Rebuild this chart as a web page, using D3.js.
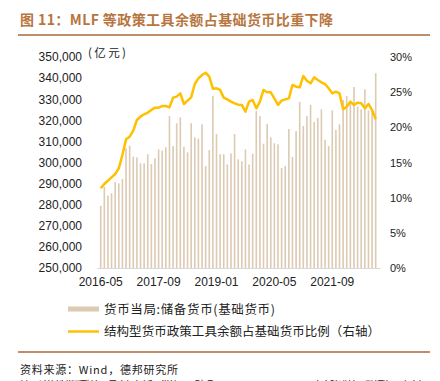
<!DOCTYPE html>
<html><head><meta charset="utf-8">
<script src="https://cdn.jsdelivr.net/npm/d3@7"></script>
<style>
body{margin:0;background:#fff;}
svg{display:block;}
text{font-family:"Liberation Sans",Arial,sans-serif;}
.cjk{font-family:"Noto Sans CJK SC","Noto Sans",sans-serif;}
</style></head><body>
<svg id="c" width="440" height="381"></svg>
<script>
// ---- data ----
const startMonth = "2016-05";
const monthCount = 77;
const tickLabels = ["2016-05","2017-09","2019-01","2020-05","2021-09"];
const baseMoney = [279500,288500,284300,285400,290800,290100,292200,306700,308000,302800,
302400,299600,299600,303900,299300,302000,306200,305600,307200,322000,
307800,318600,321400,307500,304800,318600,311900,311300,318100,298300,
305900,331500,313500,303900,303900,299100,304300,313500,301500,300600,
306200,299100,304200,324400,322000,308900,318200,311900,309100,308600,
297400,298300,315900,302600,314900,328700,317300,322000,327300,319200,
321100,325200,310800,307800,324700,315400,318100,329600,331500,328800,
335800,326500,325200,334700,324600,324600,342300];
const toolRatio = [11.33,11.94,12.42,12.89,13.37,14.17,16.07,18.29,18.67,19.53,
21.04,21.52,21.85,22.09,22.46,22.80,22.80,23.03,23.03,22.84,
24.22,24.36,24.83,23.32,23.79,24.27,26.16,26.97,27.44,27.77,
27.20,25.50,25.55,25.31,24.22,23.98,23.65,23.41,23.22,23.18,
22.23,23.65,23.89,22.70,23.65,25.31,24.98,24.98,24.12,23.18,
23.79,23.98,24.12,26.02,25.78,25.69,27.30,26.63,26.26,27.11,
26.73,26.40,26.16,25.55,24.83,25.07,24.83,22.56,22.94,23.65,
23.18,23.51,23.41,22.70,23.32,22.46,21.14];
const leftTicks = [250000,260000,270000,280000,290000,300000,310000,320000,330000,340000,350000];
const rightTicks = [0,5,10,15,20,25,30];
const seriesNames = ["货币当局:储备货币(基础货币)","结构型货币政策工具余额占基础货币比例（右轴）"];
const titleText = "图 11：MLF 等政策工具余额占基础货币比重下降";
const unitText = "(亿元)";
const sourceText = "资料来源：Wind，德邦研究所";
const noteText = "注：结构性货币政策工具余额包括再贷款、再贴现、PSL、MLF、TMLF、SLF、定向降准等，数据为月度余额";

// month categories
const parseM = d3.timeParse("%Y-%m"), fmtM = d3.timeFormat("%Y-%m");
const months = d3.timeMonth.range(parseM(startMonth), d3.timeMonth.offset(parseM(startMonth), monthCount)).map(fmtM);

const svg = d3.select("#c");
const barColor = "#dccab2", lineColor = "#ffc000", brown = "#a8693c";

// title
svg.append("text").attr("class","cjk").attr("x",20).attr("y",25)
  .attr("font-size",14).attr("font-weight","bold").attr("fill","#b7763f")
  .attr("textLength",313).text(titleText);
svg.append("line").attr("x1",18).attr("x2",430).attr("y1",35).attr("y2",35)
  .attr("stroke",brown).attr("stroke-width",1.6);

// scales
const x = d3.scaleBand().domain(months).range([98.9, 377.5]).padding(0);
const yL = d3.scaleLinear().domain([250000,350000]).range([268,57]);
const yR = d3.scaleLinear().domain([0,30]).range([268,57]);

// bars
svg.append("g").selectAll("rect").data(baseMoney).join("rect")
  .attr("x",(d,i)=>x(months[i]) + x.bandwidth()/2 - 0.8)
  .attr("width",1.6)
  .attr("y",d=>yL(d)).attr("height",d=>yL(250000)-yL(d))
  .attr("fill",barColor);

// x axis
const xAxis = d3.axisBottom(x).tickValues(tickLabels).tickSize(0).tickPadding(9);
const gx = svg.append("g").attr("transform","translate(0,268)").call(xAxis);
gx.select(".domain").attr("stroke","#d9d9d9").attr("d","M97.5,0.5H380.5");
gx.selectAll("text").attr("font-size",12).attr("fill","#222").attr("font-family","Liberation Sans, Arial, sans-serif");

// left axis
const gl = svg.append("g").attr("transform","translate(82,0)")
  .call(d3.axisLeft(yL).tickValues(leftTicks).tickSize(0).tickPadding(0).tickFormat(d3.format(",")));
gl.select(".domain").remove();
gl.selectAll("text").attr("font-size",12).attr("fill","#222").attr("font-family","Liberation Sans, Arial, sans-serif");

// right axis
const gr = svg.append("g").attr("transform","translate(390,0)")
  .call(d3.axisRight(yR).tickValues(rightTicks).tickSize(0).tickPadding(0).tickFormat(d=>d+"%"));
gr.select(".domain").remove();
gr.selectAll("text").attr("font-size",11).attr("fill","#222").attr("font-family","Liberation Sans, Arial, sans-serif");

// unit
svg.append("text").attr("class","cjk").attr("x",88).attr("y",57)
  .attr("font-size",11.5).attr("fill","#222").attr("textLength",38).text(unitText);

// line
const line = d3.line().x((d,i)=>x(months[i]) + x.bandwidth()/2).y(d=>yR(d)).curve(d3.curveLinear);
svg.append("path").datum(toolRatio).attr("d",line)
  .attr("fill","none").attr("stroke",lineColor).attr("stroke-width",2.5).attr("stroke-linejoin","round");

// legend
svg.append("rect").attr("x",68).attr("y",306.5).attr("width",31).attr("height",5).attr("fill",barColor);
svg.append("text").attr("class","cjk").attr("x",104).attr("y",313.5).attr("font-size",12.5)
  .attr("fill","#222").attr("textLength",171).text(seriesNames[0]);
svg.append("line").attr("x1",68).attr("x2",99).attr("y1",331.5).attr("y2",331.5)
  .attr("stroke",lineColor).attr("stroke-width",2.5);
svg.append("text").attr("class","cjk").attr("x",104).attr("y",336).attr("font-size",12.5)
  .attr("fill","#222").attr("textLength",276).text(seriesNames[1]);

// footer
svg.append("line").attr("x1",18).attr("x2",430).attr("y1",352).attr("y2",352)
  .attr("stroke",brown).attr("stroke-width",1.6);
svg.append("text").attr("class","cjk").attr("x",20).attr("y",374).attr("font-size",11)
  .attr("fill","#222").attr("textLength",158).text(sourceText);
svg.append("text").attr("class","cjk").attr("x",20).attr("y",390).attr("font-size",11)
  .attr("fill","#222").attr("textLength",408).text(noteText);
</script>
</body></html>
